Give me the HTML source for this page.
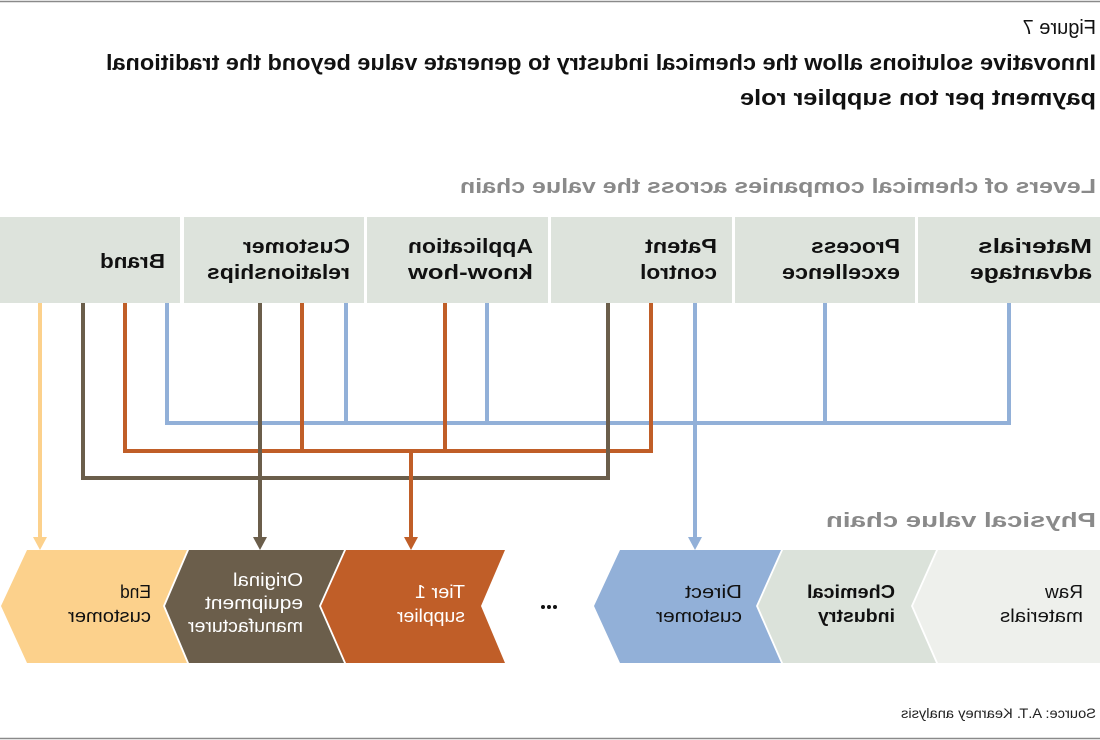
<!DOCTYPE html>
<html><head><meta charset="utf-8"><style>
html,body{margin:0;padding:0;background:#fff;width:1100px;height:740px;overflow:hidden}
svg{display:block}
text{font-family:"Liberation Sans",Arial,sans-serif}
.b{font-weight:bold}
</style></head><body>
<svg width="1100" height="740" viewBox="0 0 1100 740" xmlns="http://www.w3.org/2000/svg">
<line x1="0" y1="1.5" x2="1100" y2="1.5" stroke="#8a8a8a" stroke-width="1.5"/>
<line x1="0" y1="738.5" x2="1100" y2="738.5" stroke="#8a8a8a" stroke-width="1.5"/>
<g fill="#dde3dc">
<rect x="0" y="217" width="180" height="86"/>
<rect x="184" y="217" width="180" height="86"/>
<rect x="367" y="217" width="181" height="86"/>
<rect x="551" y="217" width="181" height="86"/>
<rect x="735" y="217" width="180" height="86"/>
<rect x="918" y="217" width="182" height="86"/>
</g>
<g fill="none" stroke-width="4">
<path d="M167 303 V423 H1009 V303 M346 303 V423 M487 303 V423 M825 303 V423" stroke="#92b0d8"/>
<path d="M125 303 V451 H651 V303 M302 303 V451 M445 303 V451" stroke="#c05e28"/>
<path d="M83 303 V478 H608 V303" stroke="#6b5e4b"/>
<path d="M695 303 V540" stroke="#92b0d8"/>
<path d="M411 451 V540" stroke="#c05e28"/>
<path d="M260 303 V540" stroke="#6b5e4b"/>
<path d="M40 303 V540" stroke="#fcd18c"/>
</g>
<g>
<polygon points="688,537 702,537 695,550" fill="#92b0d8"/>
<polygon points="404,537 418,537 411,550" fill="#c05e28"/>
<polygon points="253,537 267,537 260,550" fill="#6b5e4b"/>
<polygon points="33,537 47,537 40,550" fill="#fcd18c"/>
</g>
<polygon points="938,550 1100,550 1100,663 938,663 913,606" fill="#eef0ec"/>
<polygon points="783,550 936,550 911,606 936,663 783,663 758,606" fill="#dbe2da"/>
<polygon points="620,550 781,550 756,606 781,663 620,663 594,606" fill="#92b0d8"/>
<polygon points="346,550 505,550 481,606 505,663 346,663 321,606" fill="#c05e28"/>
<polygon points="189,550 344,550 319,606 344,663 189,663 165,606" fill="#6b5e4b"/>
<polygon points="27,550 187,550 163,606 187,663 27,663 1,606" fill="#fcd18c"/>
<g fill="#111"><circle cx="543" cy="607" r="2"/><circle cx="549" cy="607" r="2"/><circle cx="555" cy="607" r="2"/></g>
<g transform="translate(1100,0) scale(-1,1)">
<text x="4" y="34" font-size="20" fill="#111">Figure 7</text>
<text class="b" x="4" y="70" font-size="22" fill="#111" textLength="990" lengthAdjust="spacingAndGlyphs">Innovative solutions allow the chemical industry to generate value beyond the traditional</text>
<text class="b" x="4" y="105" font-size="22" fill="#111" textLength="356" lengthAdjust="spacingAndGlyphs">payment per ton supplier role</text>
<text class="b" x="4" y="193" font-size="20" fill="#8a8a8a" textLength="636" lengthAdjust="spacingAndGlyphs">Levers of chemical companies across the value chain</text>
<text class="b" x="4" y="527" font-size="20" fill="#8a8a8a" textLength="270" lengthAdjust="spacingAndGlyphs">Physical value chain</text>
<g class="b" font-size="20" fill="#111">
<text x="8" y="253" textLength="114" lengthAdjust="spacingAndGlyphs">Materials</text><text x="8" y="279" textLength="122" lengthAdjust="spacingAndGlyphs">advantage</text>
<text x="200" y="253" textLength="89" lengthAdjust="spacingAndGlyphs">Process</text><text x="200" y="279" textLength="118" lengthAdjust="spacingAndGlyphs">excellence</text>
<text x="383" y="253" textLength="72" lengthAdjust="spacingAndGlyphs">Patent</text><text x="383" y="279" textLength="77" lengthAdjust="spacingAndGlyphs">control</text>
<text x="567" y="253" textLength="125" lengthAdjust="spacingAndGlyphs">Application</text><text x="567" y="279" textLength="125" lengthAdjust="spacingAndGlyphs">know-how</text>
<text x="750" y="253" textLength="107" lengthAdjust="spacingAndGlyphs">Customer</text><text x="750" y="279" textLength="143" lengthAdjust="spacingAndGlyphs">relationships</text>
<text x="935" y="268" textLength="65" lengthAdjust="spacingAndGlyphs">Brand</text>
</g>
<g font-size="18" fill="#111">
<text x="17" y="598" textLength="38" lengthAdjust="spacingAndGlyphs">Raw</text><text x="17" y="622" textLength="83" lengthAdjust="spacingAndGlyphs">materials</text>
<text class="b" x="205" y="598" textLength="88" lengthAdjust="spacingAndGlyphs">Chemical</text><text class="b" x="205" y="622" textLength="77" lengthAdjust="spacingAndGlyphs">industry</text>
<text x="358" y="598" textLength="57" lengthAdjust="spacingAndGlyphs">Direct</text><text x="358" y="622" textLength="86" lengthAdjust="spacingAndGlyphs">customer</text>
<text x="635" y="598" fill="#fff" textLength="50" lengthAdjust="spacingAndGlyphs">Tier 1</text><text x="635" y="622" fill="#fff" textLength="68" lengthAdjust="spacingAndGlyphs">supplier</text>
<text x="797" y="586" fill="#fff" textLength="70" lengthAdjust="spacingAndGlyphs">Original</text><text x="797" y="609" fill="#fff" textLength="98" lengthAdjust="spacingAndGlyphs">equipment</text><text x="797" y="632" fill="#fff" textLength="115" lengthAdjust="spacingAndGlyphs">manufacturer</text>
<text x="949" y="598" textLength="31" lengthAdjust="spacingAndGlyphs">End</text><text x="949" y="622" textLength="83" lengthAdjust="spacingAndGlyphs">customer</text>
</g>
<text x="4" y="718" font-size="14" fill="#222" textLength="195" lengthAdjust="spacingAndGlyphs">Source: A.T. Kearney analysis</text>
</g>
</svg>
</body></html>
